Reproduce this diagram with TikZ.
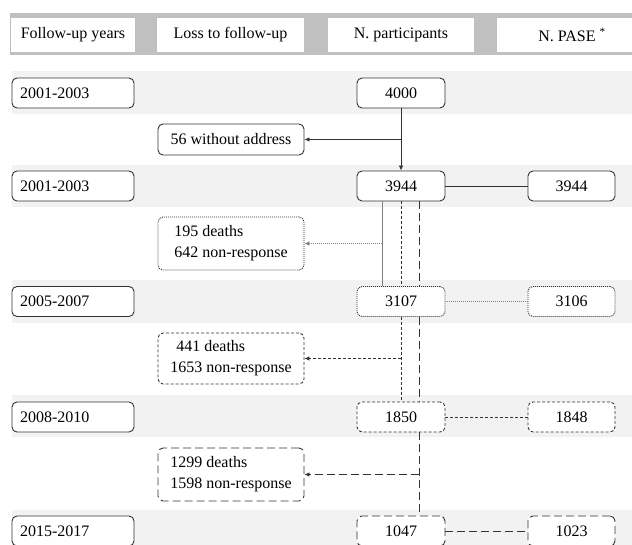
\documentclass[tikz,border=0pt]{standalone}
\usepackage{fontspec}
\setmainfont{Liberation Serif}
\usetikzlibrary{arrows.meta}
\definecolor{hdrgray}{HTML}{C0C0C0}
\definecolor{rowgray}{HTML}{F2F2F2}
\definecolor{edge}{HTML}{333333}
\begin{document}
\begin{tikzpicture}[x=1pt,y=-1pt,
  every node/.style={font=\fontsize{16}{19}\selectfont},
  hdr/.style={fill=white, inner sep=0pt, minimum height=34pt},
  bx/.style={draw=edge, line width=0.9pt, rounded corners=5pt, fill=white, inner sep=0pt, minimum height=30pt},
  yr/.style={bx, text width=106pt, align=left, minimum width=122pt},
  pb/.style={bx, minimum width=88pt},
  lb/.style={bx, minimum width=146pt, align=left, font=\fontsize{16}{21}\selectfont},
  sdot/.style={dash pattern=on 1pt off 1pt},
  sdash/.style={dash pattern=on 3pt off 2pt},
  ldash/.style={dash pattern=on 8pt off 4pt},
  arr/.style={-{Latex[length=5pt,width=4.5pt]}},
  ln/.style={draw=edge, line width=0.8pt},
  lgt/.style={draw=gray, line width=0.8pt}
]
\useasboundingbox (0,0) rectangle (632,545);
% bands
\fill[hdrgray] (10,13) rectangle (632,55);
\fill[rowgray] (12,71) rectangle (632,114);
\fill[rowgray] (12,165) rectangle (632,207);
\fill[rowgray] (12,280) rectangle (632,323);
\fill[rowgray] (12,395) rectangle (632,437);
\fill[rowgray] (12,510) rectangle (632,553);
% header
\node[hdr, minimum width=124pt] (h1) at (73,35) {Follow-up years};
\node[hdr, minimum width=147pt] (h2) at (230.5,35) {Loss to follow-up};
\node[hdr, minimum width=146pt] (h3) at (401,35) {N. participants};
\node[hdr, minimum width=150pt] (h4) at (572,35) {N. PASE \textsuperscript{*}};
% years
\node[yr] (y1) at (73,93) {2001-2003};
\node[yr] (y2) at (73,186) {2001-2003};
\node[yr] (y3) at (73,301.5) {2005-2007};
\node[yr] (y4) at (73,417) {2008-2010};
\node[yr] (y5) at (73,531) {2015-2017};
% participants
\node[pb] (p4000) at (401,93) {4000};
\node[pb] (p3944) at (401,186) {3944};
\node[pb, sdot] (p3107) at (401,301.5) {3107};
\node[pb, sdash] (p1850) at (401,417) {1850};
\node[pb, ldash] (p1047) at (401,531) {1047};
% PASE
\node[pb, minimum width=87pt] (a3944) at (571.5,186) {3944};
\node[pb, minimum width=87pt, sdot] (a3106) at (571.5,301.5) {3106};
\node[pb, minimum width=87pt, sdash] (a1848) at (571.5,417) {1848};
\node[pb, minimum width=87pt, ldash] (a1023) at (571.5,531) {1023};
% losses
\node[lb, minimum height=31pt] (l56) at (231,139.5) {56 without address};
\node[lb, minimum height=53pt, sdot] (l195) at (231,243.5) {195 deaths\\642 non-response};
\node[lb, minimum height=51pt, sdash] (l441) at (231,358.5) {\hspace{6pt}441 deaths\\1653 non-response};
\node[lb, minimum height=53pt, ldash] (l1299) at (231,474.5) {1299 deaths\\1598 non-response};
% junction coordinates
\coordinate (j1) at ([xshift=-19pt]p3944.south);
\coordinate (j2) at ([xshift=-19pt]p3107.north);
\coordinate (k1) at ([xshift=18pt]p3944.south);
\coordinate (k2) at ([xshift=18pt]p3107.north);
\coordinate (k3) at ([xshift=18pt]p3107.south);
\coordinate (k4) at ([xshift=18pt]p1850.north);
\coordinate (k5) at ([xshift=18pt]p1850.south);
\coordinate (k6) at ([xshift=18pt]p1047.north);
% connectors
\draw[ln, arr] (p4000.south) -- (p3944.north);
\draw[ln, arr] (p4000.south |- l56.east) -- (l56.east);
\draw[lgt] (j1) -- (j2);
\draw[lgt, sdot, arr] (j1 |- l195.east) -- (l195.east);
\draw[ln, sdash] (p3944.south) -- (p3107.north);
\draw[ln, sdash] (p3107.south) -- (p1850.north);
\draw[ln, sdash, arr] (p3107.south |- l441.east) -- (l441.east);
\draw[ln, ldash] (k1) -- (k2);
\draw[ln, ldash] (k3) -- (k4);
\draw[ln, ldash] (k5) -- (k6);
\draw[ln, ldash, arr] (k5 |- l1299.east) -- (l1299.east);
\draw[ln] (p3944.east) -- (a3944.west);
\draw[lgt, sdot] (p3107.east) -- (a3106.west);
\draw[ln, sdash] (p1850.east) -- (a1848.west);
\draw[ln, ldash] (p1047.east) -- (a1023.west);
\end{tikzpicture}
\end{document}
